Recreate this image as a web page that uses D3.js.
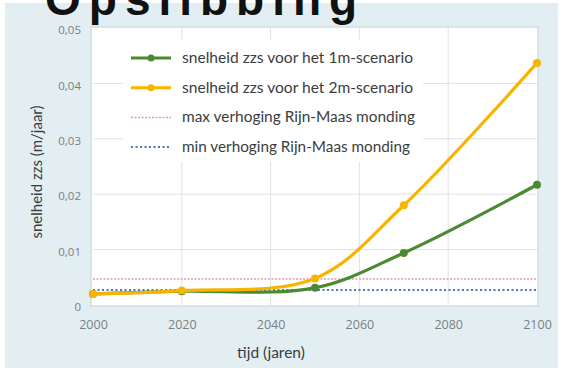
<!DOCTYPE html>
<html>
<head>
<meta charset="utf-8">
<script src="https://cdn.jsdelivr.net/npm/d3@7"></script>
<style>
  html, body { margin: 0; padding: 0; background: #ffffff; }
  svg { display: block; }
</style>
</head>
<body>
<script>
// Sedimentation speed (m/jaar) per scenario
const years = [2000, 2020, 2050, 2070, 2100];
const scenario1m = [0.0020, 0.0025, 0.0031, 0.0094, 0.0217];
const scenario2m = [0.0020, 0.0026, 0.0048, 0.0180, 0.0437];
const maxRijnMaas = 0.0047;
const minRijnMaas = 0.0027;
const xTicks = [2000, 2020, 2040, 2060, 2080, 2100];
const yTicks = [0, 0.01, 0.02, 0.03, 0.04, 0.05];
const legendLabels = [
  "snelheid zzs voor het 1m-scenario",
  "snelheid zzs voor het 2m-scenario",
  "max verhoging Rijn-Maas monding",
  "min verhoging Rijn-Maas monding"
];
const legendWidths = [231, 231, 233, 228];

const W = 563, H = 368;
const green = "#4a8a30", orange = "#f7b500", red = "#e79aa6", blue = "#4f73c9";

const svg = d3.select("body").append("svg").attr("width", W).attr("height", H);

// panel background
svg.append("rect").attr("x", 5).attr("y", 3).attr("width", 553).attr("height", H - 3)
  .attr("fill", "#e3eef3");

const x = d3.scaleLinear().domain([2000, 2100]).range([93, 537]);
const y = d3.scaleLinear().domain([0, 0.05]).range([305, 28]);

// plot area
svg.append("rect")
  .attr("x", x(2000) - 2).attr("y", y(0.05) - 1)
  .attr("width", x(2100) - x(2000) + 3).attr("height", y(0) - y(0.05) + 2)
  .attr("fill", "#ffffff").attr("stroke", "#d3dde2").attr("stroke-width", 1.5);

// grid
const grid = svg.append("g").attr("stroke", "#e2e2e2").attr("stroke-width", 1);
grid.selectAll("line.h").data(yTicks.slice(1, -1)).join("line")
  .attr("x1", x(2000)).attr("x2", x(2100))
  .attr("y1", d => y(d)).attr("y2", d => y(d));
grid.selectAll("line.v").data(xTicks.slice(1, -1)).join("line")
  .attr("y1", y(0)).attr("y2", y(0.05))
  .attr("x1", d => x(d)).attr("x2", d => x(d));

// axes (labels only)
const fontTick = "'Open Sans', 'Liberation Sans', sans-serif";
const yAxis = svg.append("g").attr("transform", `translate(${x(2000) - 12},2)`)
  .call(d3.axisLeft(y).tickValues(yTicks).tickSize(0).tickPadding(0)
    .tickFormat(d => d === 0 ? "0" : d3.format(".2f")(d).replace(".", ",")));
yAxis.select(".domain").remove();
yAxis.selectAll("text").attr("fill", "#7a7f82").style("font-family", fontTick).style("font-size", "11.5px");

const xAxis = svg.append("g").attr("transform", `translate(0,${y(0) + 15})`)
  .call(d3.axisBottom(x).tickValues(xTicks).tickSize(0).tickPadding(0).tickFormat(d3.format("d")));
xAxis.select(".domain").remove();
xAxis.selectAll("text").attr("fill", "#7a7f82").style("font-family", fontTick).style("font-size", "12.5px");

// axis titles
svg.append("text").attr("x", 271).attr("y", 358).attr("text-anchor", "middle")
  .style("font-family", "Lato, 'Open Sans', sans-serif").style("font-size", "15.5px")
  .attr("fill", "#3a3d40").text("tijd (jaren)");
svg.append("text").attr("transform", "translate(42,172) rotate(-90)").attr("text-anchor", "middle")
  .style("font-family", "Lato, 'Open Sans', sans-serif").style("font-size", "15px")
  .attr("fill", "#3a3d40").text("snelheid zzs (m/jaar)");

// reference levels
svg.append("line").attr("x1", x(2000)).attr("x2", x(2100))
  .attr("y1", y(maxRijnMaas)).attr("y2", y(maxRijnMaas))
  .attr("stroke", red).attr("stroke-width", 1.5).attr("stroke-dasharray", "2,1.5");
svg.append("line").attr("x1", x(2000)).attr("x2", x(2100))
  .attr("y1", y(minRijnMaas)).attr("y2", y(minRijnMaas))
  .attr("stroke", blue).attr("stroke-width", 2).attr("stroke-dasharray", "2,2.5");

// scenario curves
const line = d3.line().x(d => x(d[0])).y(d => y(d[1])).curve(d3.curveCatmullRom.alpha(0.5));
function drawSeries(vals, color) {
  const pts = years.map((yr, i) => [yr, vals[i]]);
  svg.append("path").datum(pts).attr("d", line)
    .attr("fill", "none").attr("stroke", color).attr("stroke-width", 3.2).attr("stroke-linecap", "round");
  svg.append("g").selectAll("circle").data(pts).join("circle")
    .attr("cx", d => x(d[0])).attr("cy", d => y(d[1])).attr("r", 4).attr("fill", color);
}
drawSeries(scenario1m, green);
drawSeries(scenario2m, orange);

// legend
const lg = svg.append("g");
lg.append("rect").attr("x", 123).attr("y", 40).attr("width", 300).attr("height", 122).attr("fill", "#ffffff");
const legendStyles = [
  { color: green, width: 3, dash: null, marker: true },
  { color: orange, width: 3, dash: null, marker: true },
  { color: red, width: 1.5, dash: "2,1.5", marker: false },
  { color: blue, width: 2, dash: "2,2.5", marker: false }
];
legendLabels.forEach((label, i) => {
  const ly = 58 + i * 29.7;
  const st = legendStyles[i];
  lg.append("line").attr("x1", 131).attr("x2", 171).attr("y1", ly).attr("y2", ly)
    .attr("stroke", st.color).attr("stroke-width", st.width).attr("stroke-dasharray", st.dash);
  if (st.marker) lg.append("circle").attr("cx", 151).attr("cy", ly).attr("r", 3.5).attr("fill", st.color);
  lg.append("text").attr("x", 182).attr("y", ly + 5)
    .style("font-family", "Lato, 'Open Sans', sans-serif").style("font-size", "14.5px")
    .attr("textLength", legendWidths[i]).attr("lengthAdjust", "spacingAndGlyphs")
    .attr("fill", "#3a3d40").text(label);
});

// heading
svg.append("text").attr("x", 45).attr("y", 15)
  .style("font-family", "'Liberation Sans', Arial, sans-serif").style("font-weight", "bold")
  .style("font-size", "46px").style("letter-spacing", "8px")
  .attr("fill", "#111111").text("Opslibbing");
</script>
</body>
</html>
